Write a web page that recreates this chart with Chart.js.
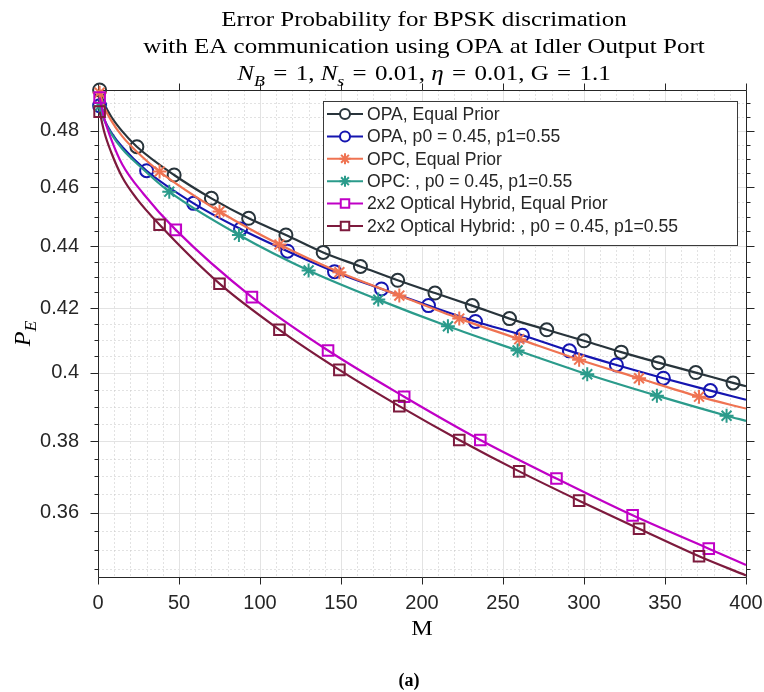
<!DOCTYPE html>
<html>
<head>
<meta charset="utf-8">
<script src="https://cdn.jsdelivr.net/npm/chart.js@4.4.0/dist/chart.umd.min.js"></script>
<style>
  html, body { margin: 0; padding: 0; background: #fff; }
  #wrap { width: 764px; height: 692px; }
</style>
</head>
<body>
<div id="wrap"><canvas id="chart" width="764" height="692"></canvas></div>
<script>
const seriesLabels = [
  "OPA, Equal Prior",
  "OPA, p0 = 0.45, p1=0.55",
  "OPC, Equal Prior",
  "OPC: , p0 = 0.45, p1=0.55",
  "2x2 Optical Hybrid, Equal Prior",
  "2x2 Optical Hybrid: , p0 = 0.45, p1=0.55"
];
const seriesColors = ["#28343b", "#1515b0", "#ef7352", "#2b9b8b", "#c000c6", "#7d1a3d"];
const seriesMarkers = ["circle", "circle", "star", "star", "rect", "rect"];
const markerEvery = [23, 29, 37, 43, 47, 37];

// M values and error probabilities
const mOpaEq = [1, 4, 8, 15, 24, 47, 70, 93, 116, 139, 162, 185, 208, 231, 254, 277, 300, 323, 346, 369, 392, 400];
const peOpaEq = [0.4950, 0.4897, 0.4853, 0.4798, 0.4743, 0.4643, 0.4562, 0.4494, 0.4438, 0.4380, 0.4334, 0.4289, 0.4248, 0.4208, 0.4167, 0.4132, 0.4098, 0.4063, 0.4031, 0.4001, 0.3970, 0.3960];

const mOpaPr = [1, 4, 8, 15, 30, 59, 88, 117, 146, 175, 204, 233, 262, 291, 320, 349, 378, 400];
const peOpaPr = [0.4892, 0.4840, 0.4796, 0.4742, 0.4658, 0.4545, 0.4458, 0.4384, 0.4317, 0.4261, 0.4208, 0.4158, 0.4115, 0.4067, 0.4024, 0.3984, 0.3947, 0.3920];

const mOpcEq = [1, 4, 8, 15, 24, 38, 75, 112, 149, 186, 223, 260, 297, 334, 371, 400];
const peOpcEq = [0.4940, 0.4885, 0.4839, 0.4780, 0.4725, 0.4655, 0.4517, 0.4406, 0.4315, 0.4240, 0.4167, 0.4103, 0.4040, 0.3984, 0.3929, 0.3894];

const mOpcPr = [1, 4, 8, 15, 25, 44, 87, 130, 173, 216, 259, 302, 345, 388, 400];
const peOpcPr = [0.4890, 0.4836, 0.4791, 0.4735, 0.4678, 0.4585, 0.4438, 0.4321, 0.4227, 0.4143, 0.4068, 0.3996, 0.3932, 0.3873, 0.3858];

const mHybEq = [1, 4, 8, 15, 28, 48, 95, 142, 189, 236, 283, 330, 377, 400];
const peHybEq = [0.4922, 0.4843, 0.4772, 0.4680, 0.4578, 0.4455, 0.4235, 0.4068, 0.3929, 0.3803, 0.3694, 0.3593, 0.3504, 0.3461];

const mHybPr = [1, 4, 8, 15, 24, 38, 75, 112, 149, 186, 223, 260, 297, 334, 371, 400];
const peHybPr = [0.4870, 0.4793, 0.4725, 0.4635, 0.4560, 0.4472, 0.4278, 0.4132, 0.4009, 0.3901, 0.3803, 0.3714, 0.3633, 0.3557, 0.3484, 0.3434];

const xMin = 0, xMax = 400;
const yMin = 0.343, yMax = 0.495;
const yMajorTicks = [0.36, 0.38, 0.40, 0.42, 0.44, 0.46, 0.48];
const yTickLabels = ["0.36", "0.38", "0.4", "0.42", "0.44", "0.46", "0.48"];

const titleLines = [
  [{ t: "Error Probability for BPSK discrimation" }],
  [{ t: "with EA communication using OPA at Idler Output Port" }],
  [{ t: "N", it: 1 }, { t: "B", it: 1, sub: 1 }, { t: " \u200a=\u200a 1, " }, { t: "N", it: 1 }, { t: "s", it: 1, sub: 1 },
   { t: " \u200a=\u200a 0.01, " }, { t: "η", it: 1 }, { t: " \u200a=\u200a 0.01, G \u200a=\u200a 1.1" }]
];

const xs = [mOpaEq, mOpaPr, mOpcEq, mOpcPr, mHybEq, mHybPr];
const ys = [peOpaEq, peOpaPr, peOpcEq, peOpcPr, peHybEq, peHybPr];
const markerRadius = { circle: 6.5, star: 7, rect: 7.5 };
const legendRadius = { circle: 5, star: 5.5, rect: 6 };

const AXIS = "#262626";
const SERIF = '"Liberation Serif", "Times New Roman", serif';
const SANS = '"Liberation Sans", Arial, sans-serif';

function near(a, b) {
  return Math.abs(a - b) < 1e-9;
}

function drawRich(ctx, parts, cx, base, size, sx) {
  const fontOf = (p) => `${p.it ? "italic " : ""}${p.sub ? Math.round(size * 0.72) : size}px ${SERIF}`;
  let w = 0;
  for (const p of parts) {
    ctx.font = fontOf(p);
    w += ctx.measureText(p.t).width;
  }
  ctx.save();
  ctx.translate(cx, base);
  ctx.scale(sx, 1);
  ctx.textAlign = "left";
  ctx.textBaseline = "alphabetic";
  let x = -w / 2;
  for (const p of parts) {
    ctx.font = fontOf(p);
    ctx.fillText(p.t, x, p.sub ? size * 0.28 : 0);
    x += ctx.measureText(p.t).width;
  }
  ctx.restore();
}

const frame = {
  id: "frame",
  beforeDatasetsDraw(chart) {
    const { ctx, chartArea: a, scales: { x, y } } = chart;
    const px = (v) => Math.round(x.getPixelForValue(v)) + 0.5;
    const py = (v) => Math.round(y.getPixelForValue(v)) + 0.5;
    const L = Math.round(a.left) + 0.5, R = Math.round(a.right) + 0.5;
    const T = Math.round(a.top) + 0.5, B = Math.round(a.bottom) + 0.5;

    const xMinor = [];
    for (let m = xMin + 10; m < xMax; m += 10) if (m % 50) xMinor.push(m);
    const yMinor = [];
    for (let k = 69; k <= 99; k++) {
      const v = k * 0.005;
      if (v > yMin && v < yMax && !yMajorTicks.some((t) => near(t, v))) yMinor.push(v);
    }
    const xMajor = [];
    for (let m = xMin; m <= xMax; m += 50) xMajor.push(m);

    ctx.save();
    ctx.lineWidth = 1;
    // minor grid, dotted
    ctx.strokeStyle = "#c4c4c4";
    ctx.setLineDash([1, 3]);
    ctx.beginPath();
    xMinor.forEach((m) => { ctx.moveTo(px(m), T); ctx.lineTo(px(m), B); });
    yMinor.forEach((v) => { ctx.moveTo(L, py(v)); ctx.lineTo(R, py(v)); });
    ctx.stroke();
    // major grid, solid
    ctx.setLineDash([]);
    ctx.strokeStyle = "#e3e3e3";
    ctx.beginPath();
    xMajor.forEach((m) => { if (m > xMin && m < xMax) { ctx.moveTo(px(m), T); ctx.lineTo(px(m), B); } });
    yMajorTicks.forEach((v) => { ctx.moveTo(L, py(v)); ctx.lineTo(R, py(v)); });
    ctx.stroke();
    // box and outward ticks
    ctx.strokeStyle = AXIS;
    ctx.beginPath();
    ctx.rect(L, T, R - L, B - T);
    xMajor.forEach((m) => {
      ctx.moveTo(px(m), B); ctx.lineTo(px(m), B + 7);
      ctx.moveTo(px(m), T); ctx.lineTo(px(m), T - 7);
    });
    yMajorTicks.forEach((v) => {
      ctx.moveTo(L, py(v)); ctx.lineTo(L - 8, py(v));
      ctx.moveTo(R, py(v)); ctx.lineTo(R + 8, py(v));
    });
    yMinor.forEach((v) => {
      ctx.moveTo(L, py(v)); ctx.lineTo(L - 4, py(v));
      ctx.moveTo(R, py(v)); ctx.lineTo(R + 4, py(v));
    });
    ctx.stroke();
    ctx.restore();
  },
  afterDraw(chart) {
    const { ctx, chartArea: a } = chart;
    const cx = (a.left + a.right) / 2;
    ctx.save();
    ctx.fillStyle = "#000";
    // title
    drawRich(ctx, titleLines[0], cx + 2, 26, 21, 1.19);
    drawRich(ctx, titleLines[1], cx + 2, 53, 21, 1.19);
    drawRich(ctx, titleLines[2], cx + 2, 80, 21, 1.19);
    // x label
    drawRich(ctx, [{ t: "M" }], cx, 635, 22, 1.1);
    // y label
    ctx.save();
    ctx.translate(30, (a.top + a.bottom) / 2);
    ctx.rotate(-Math.PI / 2);
    drawRich(ctx, [{ t: "P", it: 1 }, { t: "E", it: 1, sub: 1 }], 0, 0, 23, 1.05);
    ctx.restore();
    // caption
    ctx.font = `bold 18px ${SERIF}`;
    ctx.textAlign = "center";
    ctx.textBaseline = "alphabetic";
    ctx.fillText("(a)", 409, 686);

    // legend box inside the axes
    const lx = a.right - 9, lw = 414, top = a.top + 11, rowH = 22.4, n = seriesLabels.length;
    const left = lx - lw, h = 13 + rowH * n - 3;
    ctx.fillStyle = "#fff";
    ctx.fillRect(left, top, lw, h);
    ctx.strokeStyle = "#3a3a3a";
    ctx.lineWidth = 1;
    ctx.strokeRect(Math.round(left) + 0.5, Math.round(top) + 0.5, Math.round(lw), Math.round(h));
    seriesLabels.forEach((label, i) => {
      const yy = top + 13 + rowH * i;
      ctx.strokeStyle = seriesColors[i];
      ctx.lineWidth = 2;
      ctx.beginPath();
      ctx.moveTo(left + 4, yy);
      ctx.lineTo(left + 40, yy);
      ctx.stroke();
      ctx.fillStyle = "#fff";
      Chart.helpers.drawPoint(ctx, {
        pointStyle: seriesMarkers[i],
        radius: legendRadius[seriesMarkers[i]],
        borderWidth: 2,
        rotation: 0
      }, left + 22, yy);
      ctx.fillStyle = AXIS;
      ctx.font = `17.6px ${SANS}`;
      ctx.textAlign = "left";
      ctx.textBaseline = "middle";
      ctx.fillText(label, left + 44, yy + 1);
    });
    ctx.restore();
  }
};

const datasets = seriesLabels.map((label, i) => ({
  label,
  data: xs[i].map((m, k) => ({ x: m, y: ys[i][k] })),
  borderColor: seriesColors[i],
  backgroundColor: "rgba(0,0,0,0)",
  borderWidth: 2.2,
  pointStyle: seriesMarkers[i],
  pointRadius: (c) => (c.raw && (c.raw.x - 1) % markerEvery[i] === 0 ? markerRadius[seriesMarkers[i]] : 0),
  pointHoverRadius: 0,
  pointBorderWidth: 2,
  pointBorderColor: seriesColors[i],
  pointBackgroundColor: "rgba(0,0,0,0)",
  cubicInterpolationMode: "monotone",
  clip: false,
  order: seriesLabels.length - i
}));

new Chart(document.getElementById("chart"), {
  type: "line",
  data: { datasets },
  options: {
    responsive: false,
    devicePixelRatio: 1,
    animation: false,
    layout: { padding: { left: 0, right: 18, top: 90, bottom: 0 } },
    plugins: {
      legend: { display: false },
      title: { display: false },
      tooltip: { enabled: false }
    },
    scales: {
      x: {
        type: "linear",
        min: xMin,
        max: xMax,
        grid: { display: false, drawTicks: false },
        border: { display: false },
        ticks: {
          stepSize: 50,
          autoSkip: false,
          maxRotation: 0,
          padding: 14,
          color: AXIS,
          font: { family: "Liberation Sans", size: 20 }
        },
        afterFit: (s) => {
          s.height = 115;
          s.paddingLeft = 0;
          s.paddingRight = 0;
        }
      },
      y: {
        type: "logarithmic",
        bounds: "data",
        min: yMin,
        max: yMax,
        grid: { display: false, drawTicks: false },
        border: { display: false },
        afterBuildTicks: (s) => { s.ticks = yMajorTicks.map((v) => ({ value: v })); },
        ticks: {
          autoSkip: false,
          padding: 19,
          color: AXIS,
          font: { family: "Liberation Sans", size: 20 },
          callback: (v) => {
            const k = yMajorTicks.findIndex((t) => near(t, v));
            return k >= 0 ? yTickLabels[k] : "";
          }
        },
        afterFit: (s) => {
          s.width = 98;
          s.paddingTop = 0;
          s.paddingBottom = 0;
        }
      }
    }
  },
  plugins: [frame]
});
</script>
</body>
</html>
